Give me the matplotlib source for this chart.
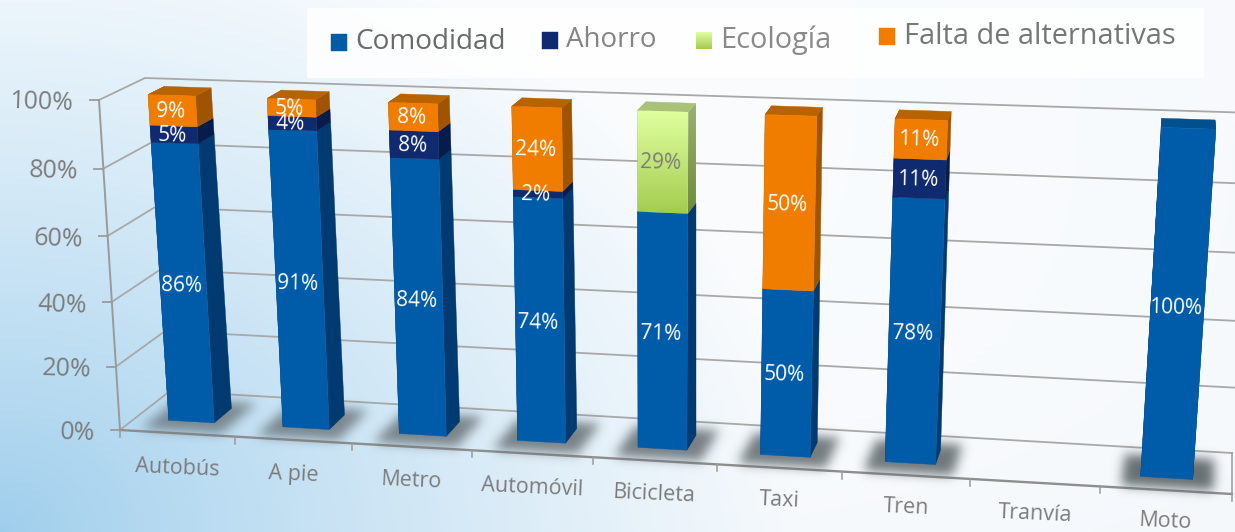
# -*- coding: utf-8 -*-
"""
Barras apiladas con perspectiva: motivos de uso de cada medio de transporte.
"""

import numpy as np
import matplotlib
matplotlib.use("Agg")
import matplotlib.pyplot as plt
from matplotlib.colors import to_rgb
from matplotlib.path import Path
from matplotlib.patches import Polygon

# -----------------------------------------------------------------------------
# 1. Datos
# -----------------------------------------------------------------------------
categorias = ["Autobús", "A pie", "Metro", "Automóvil", "Bicicleta",
              "Taxi", "Tren", "Tranvía", "Moto"]
comodidad = [86, 91, 84, 74, 71, 50, 78, 0, 100]
ahorro = [5, 4, 8, 2, 0, 0, 11, 0, 0]
ecologia = [0, 0, 0, 0, 29, 0, 0, 0, 0]
falta = [9, 5, 8, 24, 0, 50, 11, 0, 0]
ticks_y = [0, 20, 40, 60, 80, 100]

series = [comodidad, ahorro, ecologia, falta]
nombres = ["Comodidad", "Ahorro", "Ecología", "Falta de alternativas"]

# -----------------------------------------------------------------------------
# 2. Geometría y estilos
# -----------------------------------------------------------------------------
W, H = 1235, 532

# Esquinas de la caja en píxeles, [frente, fondo] para cada combinación
ESQ_IZQ_0 = np.array([[120, 430], [170, 391]], dtype=float)
ESQ_IZQ_100 = np.array([[99, 100], [145, 78]], dtype=float)
ESQ_DER_0 = np.array([[1232, 494], [1232, 453]], dtype=float)
ESQ_DER_100 = np.array([[1258, 138], [1254, 113]], dtype=float)
COMBA_X = 0.077     # las divisiones crecen hacia la derecha
COMBA_V = 0.05      # y hacia arriba

D_FRENTE, D_FONDO = 0.3, 0.67
ANCHO = 0.4

AZUL = ("#005ca9", "#003a70", "#004f8f")
MARINO = ("#0f2a6e", "#071c4c", "#0a2260")
VERDE = (("#e0ffa0", "#a4cc50"), ("#9ab070", "#6e8b3a"), "#a9c277")
NARANJA = ("#f07d00", "#a05400", "#b86200")
colores = [AZUL, MARINO, VERDE, NARANJA]

GRIS_EJE = "#9a9a9a"
GRIS_TEXTO = "#7c7c7c"
FUENTE = "Open Sans"


def proyectar(t, v, d):
    """Categoría t (0 a 9), valor v (0 a 100), profundidad d (0 a 1) -> píxel."""
    u = t / 9 + COMBA_X * (t / 9) * (t / 9 - 1)
    s = v / 100 + COMBA_V * (v / 100) * (v / 100 - 1)
    abajo = (1 - u) * ((1 - d) * ESQ_IZQ_0[0] + d * ESQ_IZQ_0[1]) \
        + u * ((1 - d) * ESQ_DER_0[0] + d * ESQ_DER_0[1])
    arriba = (1 - u) * ((1 - d) * ESQ_IZQ_100[0] + d * ESQ_IZQ_100[1]) \
        + u * ((1 - d) * ESQ_DER_100[0] + d * ESQ_DER_100[1])
    return (1 - s) * abajo + s * arriba


def cara_degradada(ax, verts, c1, c2, zorder):
    """Polígono con degradado vertical de c1 (arriba) a c2 (abajo)."""
    verts = np.array(verts)
    x0, x1 = verts[:, 0].min(), verts[:, 0].max()
    y0, y1 = verts[:, 1].min(), verts[:, 1].max()
    a, b = np.array(to_rgb(c1)), np.array(to_rgb(c2))
    f = np.linspace(0, 1, 64)[:, None, None]
    img = (1 - f) * a[None, None, :] + f * b[None, None, :]
    im = ax.imshow(img, extent=(x0, x1, y1, y0), aspect="auto", zorder=zorder)
    im.set_clip_path(Polygon(verts, closed=True, transform=ax.transData))


def cara(ax, verts, color, zorder):
    if isinstance(color, tuple):
        cara_degradada(ax, verts, color[0], color[1], zorder)
    else:
        ax.add_patch(Polygon(verts, closed=True, facecolor=color,
                             edgecolor=color, lw=0.3, zorder=zorder))


def capa_sombras(grupos):
    """Capa RGBA con las huellas de las barras difuminadas sobre el suelo."""
    yy, xx = np.mgrid[0:H, 0:W]
    puntos = np.column_stack([xx.ravel() + 0.5, yy.ravel() + 0.5])
    masc = np.zeros((H, W))
    for verts, fuerza in grupos:
        dentro = Path(verts).contains_points(puntos).reshape(H, W)
        masc = np.maximum(masc, dentro * fuerza)
    nucleo = np.exp(-0.5 * (np.arange(-15, 16) / 5.5) ** 2)
    nucleo /= nucleo.sum()
    masc = np.apply_along_axis(lambda f: np.convolve(f, nucleo, "same"), 1, masc)
    masc = np.apply_along_axis(lambda f: np.convolve(f, nucleo, "same"), 0, masc)
    capa = np.zeros((H, W, 4))
    capa[..., :3] = to_rgb("#5f686c")
    capa[..., 3] = masc
    return capa


# -----------------------------------------------------------------------------
# 3. Figura y fondo
# -----------------------------------------------------------------------------
fig = plt.figure(figsize=(W / 100, H / 100), dpi=100)
ax = fig.add_axes([0, 0, 1, 1])
ax.set_axis_off()

yy, xx = np.mgrid[0:H, 0:W]
dist = np.sqrt((xx / 800) ** 2 + ((H - yy) / 640) ** 2).clip(0, 1)
dist = dist ** 0.85
ini, fin = np.array(to_rgb("#9ccdec")), np.array(to_rgb("#fafcfe"))
fondo = (1 - dist[..., None]) * ini + dist[..., None] * fin
# ligero tono azulado hacia la esquina derecha y hacia abajo
tinte = (((xx / W) ** 3) * 0.06 + ((yy / H) ** 4) * 0.05)[..., None]
fondo = fondo * (1 - tinte) + tinte * np.array(to_rgb("#c8d8e8"))
ax.imshow(fondo, extent=(0, W, H, 0), aspect="auto", zorder=0)

# -----------------------------------------------------------------------------
# 4. Paredes, rejilla y ejes
# -----------------------------------------------------------------------------
for v in ticks_y:
    a = proyectar(0, v, 0)
    b = proyectar(0, v, 1)
    c = proyectar(9, v, 1)
    ax.plot([a[0], b[0], c[0]], [a[1], b[1], c[1]], color="#a8a8a8", lw=1.3,
            solid_joinstyle="miter", zorder=1)
    ax.plot([a[0] - 9, a[0]], [a[1], a[1]], color=GRIS_EJE, lw=1.3, zorder=1)
    ax.text(a[0] - 25, a[1] + 4, f"{v}%", ha="right", va="center", rotation=-2,
            rotation_mode="anchor", color=GRIS_TEXTO, fontsize=18,
            family=FUENTE, zorder=6)

p0, p1 = proyectar(0, 0, 0), proyectar(0, 100, 0)
ax.plot([p0[0], p1[0]], [p0[1], p1[1]], color=GRIS_EJE, lw=1.4, zorder=1)
p0, p1 = proyectar(9, 0, 0), proyectar(9, 0, 1)
ax.plot([p0[0], p1[0]], [p0[1], p1[1]], color=GRIS_EJE, lw=1.1, zorder=1)
ts = np.linspace(0, 9, 19)
frente = np.array([proyectar(t, 0, 0) for t in ts])
ax.plot(frente[:, 0], frente[:, 1], color="#8e8e8e", lw=1.7, zorder=1)

for i in range(len(categorias) + 1):
    p = proyectar(i, 0, 0)
    ax.plot([p[0], p[0]], [p[1], p[1] + 7], color=GRIS_EJE, lw=1.1, zorder=1)

# -----------------------------------------------------------------------------
# 5. Sombras
# -----------------------------------------------------------------------------
sombras = []
for i in range(len(categorias)):
    if sum(s[i] for s in series) == 0:
        continue
    fuerza = 0.72 + 0.23 * i / 8
    huella = [proyectar(i + 0.16, 0, 0.06), proyectar(i + 0.86, 0, 0.06),
              proyectar(i + 0.86, 0, 0.82), proyectar(i + 0.16, 0, 0.82)]
    sombras.append((huella, fuerza))
ax.imshow(capa_sombras(sombras), extent=(0, W, H, 0), aspect="auto", zorder=1.5)

# -----------------------------------------------------------------------------
# 6. Barras apiladas y etiquetas
# -----------------------------------------------------------------------------
for i in range(len(categorias)):
    t0, t1 = i + 0.5 - ANCHO / 2, i + 0.5 + ANCHO / 2
    base = 0
    total = sum(s[i] for s in series)
    for serie, col in zip(series, colores):
        val = serie[i]
        if val == 0:
            continue
        tope = base + val
        z = 2 + i * 0.1
        izq = [proyectar(t0, base, D_FRENTE), proyectar(t0, tope, D_FRENTE),
               proyectar(t0, tope, D_FONDO), proyectar(t0, base, D_FONDO)]
        der = [proyectar(t1, base, D_FRENTE), proyectar(t1, tope, D_FRENTE),
               proyectar(t1, tope, D_FONDO), proyectar(t1, base, D_FONDO)]
        front = [proyectar(t0, base, D_FRENTE), proyectar(t1, base, D_FRENTE),
                 proyectar(t1, tope, D_FRENTE), proyectar(t0, tope, D_FRENTE)]
        cara(ax, izq, "#002c58" if col is AZUL else col[1], z)
        cara(ax, der, col[1], z)
        if tope == total:
            techo = [proyectar(t0, tope, D_FRENTE), proyectar(t1, tope, D_FRENTE),
                     proyectar(t1, tope, D_FONDO), proyectar(t0, tope, D_FONDO)]
            cara(ax, techo, col[2], z)
        cara(ax, front, col[0], z + 0.01)

        cx, cy = proyectar(i + 0.5, base + val / 2, D_FRENTE)
        color_txt = GRIS_TEXTO if col is VERDE else "white"
        ax.text(cx - 2, cy + 1, f"{val}%", ha="center", va="center", rotation=-1.5,
                color=color_txt, fontsize=15, family=FUENTE, zorder=6)
        base = tope

# Etiquetas de categoría
for i, nombre in enumerate(categorias):
    x, y = proyectar(i + 0.5, 0, 0)
    ax.text(x, y + 35 - 3.5 * i / 8, nombre, ha="center", va="center", rotation=-2.5,
            color=GRIS_TEXTO, fontsize=15.5, family=FUENTE, zorder=6)

# -----------------------------------------------------------------------------
# 7. Leyenda (hecha a mano: cada entrada está a distinta altura)
# -----------------------------------------------------------------------------
ax.fill([307, 1204, 1204, 307], [8, 8, 78, 78], color="white", alpha=0.85,
        lw=0, zorder=5)

pos_cuadro = [(331, 34), (542, 32), (696, 32), (879, 28)]
pos_texto = [(355, 42), (566, 40), (720, 40), (904, 36)]
col_leyenda = [AZUL[0], MARINO[0], VERDE[0], NARANJA[0]]
tono = ["#6a6a6a", "#858585", "#8a8a8a", "#767676"]
tamano = [20.2, 20.0, 20.8, 20.8]
for nombre, pc, pt, col, gris, fs in zip(nombres, pos_cuadro, pos_texto,
                                         col_leyenda, tono, tamano):
    x, y = pc
    cuadro = [(x, y), (x + 16, y), (x + 16, y + 17), (x, y + 17)]
    cara(ax, cuadro, col, 5.5)
    ax.text(pt[0], pt[1], nombre, ha="left", va="center", color=gris,
            fontsize=fs, family=FUENTE, zorder=6)

ax.set_xlim(0, W)
ax.set_ylim(H, 0)

fig.savefig("out.png", dpi=100)
